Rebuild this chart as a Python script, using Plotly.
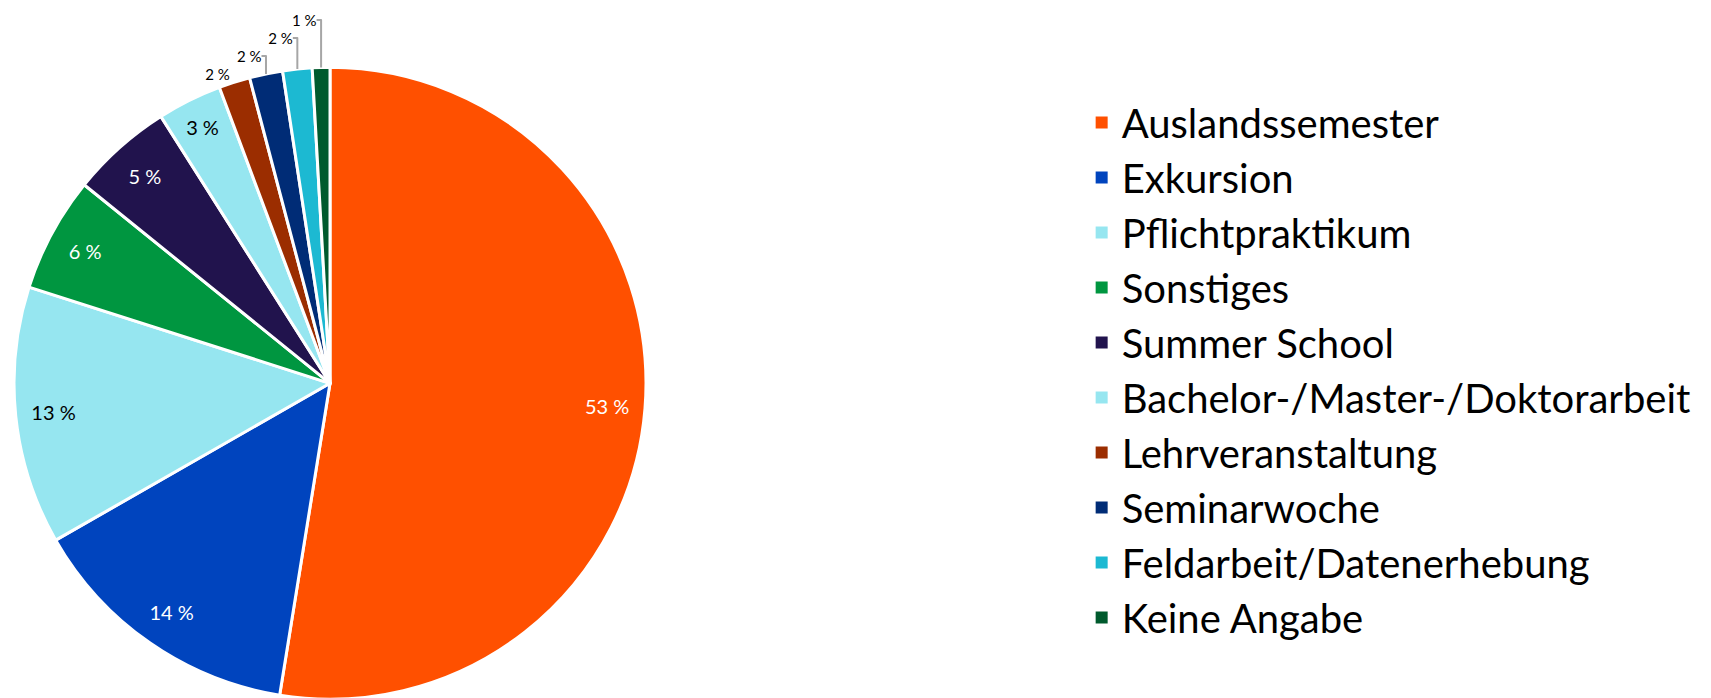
import plotly.graph_objects as go

categories = ["Auslandssemester", "Exkursion", "Pflichtpraktikum", "Sonstiges",
              "Summer School", "Bachelor-/Master-/Doktorarbeit", "Lehrveranstaltung",
              "Seminarwoche", "Feldarbeit/Datenerhebung", "Keine Angabe"]
values = [52.6, 14.2, 13.2, 5.9, 5.2, 3.3, 1.6, 1.7, 1.5, 0.9]
colors = ["#FF5000", "#0044BE", "#96E6F0", "#009640", "#21134D",
          "#96E6F0", "#9B2D00", "#002C76", "#1CB9D2", "#005A2D"]
text_colors = ["white", "white", "black", "white", "white", "black",
               "black", "black", "black", "black"]
positions = ["inside"] * 6 + ["outside"] * 4

labels_txt = [f"{round(v)} %" for v in values]

FONT = "Lato"
DOMAIN = dict(x=[0.0035, 0.3729], y=[0.0096, 0.915])

fig = go.Figure()
# coloured pie that also feeds the legend
fig.add_trace(go.Pie(
    labels=categories,
    values=values,
    textinfo="none",
    marker=dict(colors=colors, line=dict(color="white", width=3)),
    sort=False,
    direction="clockwise",
    rotation=0,
    domain=DOMAIN,
    automargin=False,
    hoverinfo="label+percent",
))
# transparent ring carrying the percentage labels close to the rim
fig.add_trace(go.Pie(
    labels=categories,
    values=values,
    text=labels_txt,
    textinfo="text",
    textposition=positions,
    insidetextorientation="horizontal",
    textfont=dict(family=FONT, size=20, color=text_colors),
    outsidetextfont=dict(family=FONT, size=15, color="black"),
    marker=dict(colors=["rgba(0,0,0,0)"] * len(values), line=dict(width=0)),
    hole=0.76,
    sort=False,
    direction="clockwise",
    rotation=0,
    domain=DOMAIN,
    automargin=False,
    showlegend=False,
    hoverinfo="skip",
))

fig.update_layout(
    width=1711, height=698,
    margin=dict(l=0, r=0, t=0, b=0, autoexpand=False),
    paper_bgcolor="white",
    plot_bgcolor="white",
    font=dict(family=FONT, color="black"),
    showlegend=True,
    legend=dict(
        x=0.6275, xanchor="left",
        y=0.4813, yanchor="middle",
        font=dict(family=FONT, size=40, color="black"),
        bgcolor="rgba(0,0,0,0)",
    ),
)

post = """
var gd = document.getElementsByClassName('plotly-graph-div')[0];
function restyleBits(){
  document.querySelectorAll('.legend path.legendpie').forEach(function(p){
    p.setAttribute('d','M7.5,7.5H-7.5V-7.5H7.5Z');
  });
  document.querySelectorAll('path.textline').forEach(function(p){
    p.style.stroke = '#A6A6A6';
    p.style.strokeWidth = '2px';
  });
}
restyleBits();
gd.on('plotly_afterplot', restyleBits);
"""

fig.write_html("out.html", post_script=post)
